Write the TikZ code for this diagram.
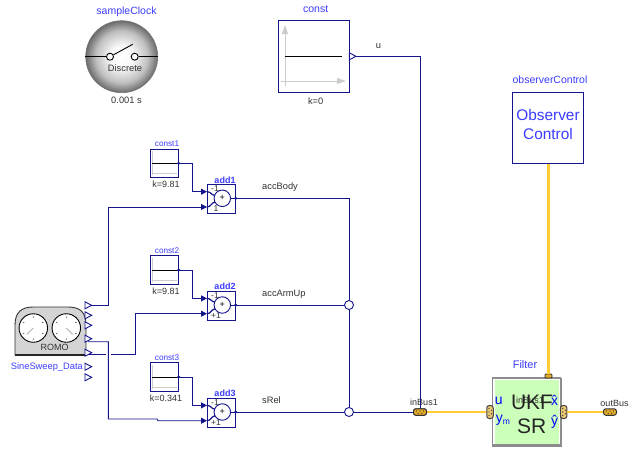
\documentclass[tikz,border=0pt]{standalone}
\usepackage{fontspec}
\setmainfont{Liberation Sans}
\usetikzlibrary{arrows.meta,shadings}
\definecolor{navy}{RGB}{20,20,140}
\definecolor{lblue}{RGB}{60,60,255}
\definecolor{ygold}{RGB}{255,204,51}
\definecolor{busfill}{RGB}{225,170,40}
\definecolor{txt}{RGB}{50,50,50}
\pgfdeclareradialshading{clkshade}{\pgfpointorigin}{color(0bp)=(white); color(8bp)=(black!3); color(18bp)=(black!25); color(25bp)=(black!58); color(50bp)=(black!58)}
\tikzset{
  x=1pt,y=-1pt,
  lab/.style={inner sep=0,font=\fontsize{10.5}{11}\selectfont,text=lblue},
  grey/.style={inner sep=0,font=\fontsize{9.3}{10}\selectfont,text=txt},
  wire/.style={draw=navy,line width=0.9pt},
  arrowwire/.style={wire,-{Triangle[length=6pt,width=6pt]}},
  bus/.style={draw=ygold,line width=2.4pt},
  blockbox/.style={draw=navy,line width=0.9pt,fill=white},
  port/.style={draw=navy,fill=white,line width=0.9pt,line join=miter},
  junc/.style={circle,draw=navy,fill=white,line width=0.9pt,inner sep=0,minimum size=9pt},
  hbus/.style={rounded corners=2.5pt,draw=black!80,fill=busfill,line width=1pt,minimum width=13pt,minimum height=6.5pt,inner sep=0},
  vbus/.style={rounded corners=2.5pt,draw=black!75,fill=busfill!65!white,line width=1pt,minimum width=6.5pt,minimum height=13pt,inner sep=0},
}
\begin{document}
\begin{tikzpicture}
\useasboundingbox (0,0) rectangle (630,448);
\fill[white] (0,0) rectangle (630,448);

% sampleClock
\node[circle,minimum size=72pt,inner sep=0,draw=black!55,line width=0.6pt,shading=clkshade] (clock) at (121.7,56.7) {};
\node[lab] (clockname) at (126.5,12) {sampleClock};
\node[grey] (clockperiod) at (126.5,100.5) {0.001 s};
\node[grey] (clockkind) at (125,68) {Discrete};
\node[circle,draw=black,fill=white,line width=0.9pt,inner sep=0,minimum size=7pt] (sw1) at (110,56.7) {};
\node[circle,draw=black,fill=white,line width=0.9pt,inner sep=0,minimum size=7pt] (sw2) at (134.7,56.7) {};
\draw[line width=0.9pt] (clock.west) -- (sw1);
\draw[line width=0.9pt] (sw2) -- (clock.east);
\draw[line width=0.9pt] (sw1) -- (132.7,44.3);

% const
\node[blockbox,minimum width=71.3pt,minimum height=71.3pt,inner sep=0] (const) at (313.65,56.35) {};
\node[lab] (constname) at (315.7,9.5) {const};
\node[grey] (constk) at (315.7,101.5) {k=0};
\draw[black!20,line width=1pt,-{Triangle[length=9pt,width=6pt]}] (285,86) -- (285,25);
\draw[black!20,line width=1pt,-{Triangle[length=9pt,width=6pt]}] (281,81) -- (346,81);
\draw[black,line width=0.9pt] (285,56.3) -- (342.3,56.3);
\draw[port] (349.3,52.8) -- (356,56.3) -- (349.3,59.8) -- cycle;
\coordinate (constout) at (356,56.3);
\node[grey] (ulabel) at (378.5,46) {u};

% observerControl
\node[blockbox,minimum width=70.6pt,minimum height=71.7pt,inner sep=0] (obs) at (548,127.85) {};
\node[lab] (obsname) at (550,80) {observerControl};
\node[inner sep=0,font=\fontsize{15.4}{18}\selectfont,text=lblue,align=center] (obstext) at (548,124) {Observer\\[1pt]Control};

% Filter
\fill[black!45] (491.7,377.7) rectangle (561.7,446.7);
\node[draw=black!45,line width=1.2pt,fill=white,minimum width=68pt,minimum height=67pt,inner sep=0] (filterbox) at (526.7,411.5) {};
\fill[fill={rgb,255:red,204;green,255;blue,185}] (495,380) rectangle (559.3,444);
\node[lab,font=\fontsize{11}{12}\selectfont] (filtername) at (525,365) {Filter};
\node[inner sep=0,font=\fontsize{9}{10}\selectfont,text=txt] (filtbus) at (530,400.7) {inBus1};
\node[inner sep=0,font=\fontsize{21}{24}\selectfont,text=black!85] (ukf) at (532,402.5) {UKF};
\node[inner sep=0,font=\fontsize{21}{24}\selectfont,text=black!85] (sr) at (531.7,426) {SR};
\node[inner sep=0,font=\fontsize{14}{15}\selectfont,text=blue] (fu) at (498.8,401) {u};
\node[inner sep=0,font=\fontsize{14}{15}\selectfont,text=blue] (fym) at (503,420.5) {y\raisebox{-2pt}{\fontsize{8.5}{9}\selectfont m}};
\node[inner sep=0,font=\fontsize{14}{15}\selectfont,text=blue] (fx) at (554.5,400.5) {\^{x}};
\node[inner sep=0,font=\fontsize{14}{15}\selectfont,text=blue] (fy) at (554.5,421.5) {\^{y}};

% buses
\node[hbus] (inbus) at (420,412) {};
\node[hbus] (outbus) at (610,412) {};
\node[vbus] (filtin) at (490,412) {};
\node[vbus] (filtout) at (563.7,412) {};
\node[rounded corners=1pt,draw=black!80,fill=busfill,line width=0.8pt,minimum width=7pt,minimum height=4pt,inner sep=0] (filttop) at (548.5,376) {};
\node[grey,font=\fontsize{9}{10}\selectfont] (inbuslabel) at (424,402.5) {inBus1};
\node[grey,font=\fontsize{9}{10}\selectfont] (outbuslabel) at (614.5,403) {outBus};

% const -> inBus
\draw[wire] (constout) -- (420,56.3) -- (inbus.center);
\draw[bus] (inbus.east) -- (filtin.west);
\draw[bus] (filtout.east) -- (outbus.west);
\draw[bus] (obs.south -| filttop) -- (filttop.north);

% constants & adders
\foreach \i/\dy/\k/\s in {1/0/9.81/1,2/106.7/9.81/{+1},3/213.7/0.341/{+1}}{
  \node[draw=navy,fill=white,line width=0.8pt,minimum width=28.7pt,minimum height=28.7pt,inner sep=0] (c\i) at (164.35,163.35+\dy) {};
  \node[lab,font=\fontsize{8.2}{10}\selectfont] (cn\i) at (167,144+\dy) {const\i};
  \node[grey,font=\fontsize{9}{10}\selectfont] (ck\i) at (166,184.5+\dy) {k=\k};
  \draw[black!20,line width=0.7pt] (152.5,151+\dy) -- (152.5,175+\dy);
  \draw[black!20,line width=0.7pt] (151.5,173.5+\dy) -- (177,173.5+\dy);
  \draw[black,line width=0.9pt] (152,163.3+\dy) -- (178,163.3+\dy);
  \node[blockbox,minimum width=28.7pt,minimum height=29pt,inner sep=0] (a\i) at (221.35,199.2+\dy) {};
  \node[inner sep=0,font=\bfseries\fontsize{9}{10}\selectfont,text=lblue] (an\i) at (225,180+\dy) {add\i};
  \draw[navy,line width=1.2pt] (207,191.7+\dy) .. controls (211,191.7+\dy) and (211,195+\dy) .. (215,195.5+\dy);
  \draw[navy,line width=1.2pt] (207,207+\dy) .. controls (211,207+\dy) and (211,203+\dy) .. (215,202+\dy);
  \node[grey,font=\fontsize{8.5}{10}\selectfont] (m\i) at (215,188.5+\dy) {-1};
  \node[grey,font=\fontsize{8.5}{10}\selectfont] (p\i) at (216,208.5+\dy) {\s};
  \node[circle,draw=navy,fill=white,line width=0.9pt,inner sep=0,minimum size=16.5pt,font=\fontsize{9}{10}\selectfont,text=black] (s\i) at (222.3,198.3+\dy) {+};
  \coordinate (out\i) at (235.7,198.3+\dy);
  \draw[navy,line width=0.9pt] (s\i) -- (out\i);
  \coordinate (in\i a) at (207,191.7+\dy);
  \coordinate (in\i b) at (207,207+\dy);
  \draw[arrowwire] (178.7,163.3+\dy) -- (192.7,163.3+\dy) -- (192.7,191.7+\dy) -- (in\i a);
  \fill[navy] (178.7,163.3+\dy) circle (1.6pt);
  \fill[navy] (out\i) circle (1.6pt);
}

% outputs
\node[grey,anchor=west] (accbody) at (262,187) {accBody};
\node[grey,anchor=west] (accarm) at (262,294) {accArmUp};
\node[grey,anchor=west] (srel) at (262,400.5) {sRel};
\coordinate (j0) at (349,198.3);
\node[junc] (j1) at (349,305) {};
\node[junc] (j2) at (349,412) {};
\draw[wire] (out1) -- (j0) -- (j1);
\draw[wire] (out2) -- (j1);
\draw[wire] (j1) -- (j2);
\draw[wire] (out3) -- (j2);
\draw[wire] (j2) -- (inbus.center);
\node[hbus] at (inbus) {};
\foreach \cx in {420,610}{
  \foreach \d in {-3.5,0,3.5}{\fill[black!80] (\cx+\d,411) circle (0.7pt);}
  \foreach \d in {-1.8,1.8}{\fill[black!80] (\cx+\d,413.5) circle (0.7pt);}
}
\foreach \cx in {490,563.7}{
  \foreach \d in {-3.5,0,3.5}{\fill[black!80] (\cx-1,412+\d) circle (0.7pt);}
  \foreach \d in {-1.8,1.8}{\fill[black!80] (\cx+1.5,412+\d) circle (0.7pt);}
}

% ROMO
\draw[draw=black!80,fill=black!17,line width=0.9pt] (15,355) -- (15,325) .. controls (15,312) and (22,307) .. (33,307) -- (68,307) .. controls (80,307) and (86,312) .. (86,325) -- (86,355) -- cycle;
\draw[black!85,line width=1.3pt] (15,355) -- (86,355);
\foreach \n/\cx/\ang in {g1/33.3/225,g2/66.3/-45}{
  \node[circle,draw=black,fill=white,line width=0.9pt,minimum size=28.5pt,inner sep=0] (\n) at (\cx,328) {};
  \foreach \t in {30,90,...,330}{\fill[black!70] (\cx,328) ++({11*cos(\t)},{11*sin(\t)}) circle (0.7pt);}
  \draw[black!30,line width=0.8pt] (\cx,328) -- ++({9*cos(\ang)},{-9*sin(\ang)});
}
\node[inner sep=0,font=\fontsize{9}{10}\selectfont,text=txt] (romo) at (54.7,347) {ROMO};
\node[lab,anchor=east,font=\fontsize{9.3}{10}\selectfont] (sine) at (83,367) {SineSweep\_Data};
\foreach \y/\n in {305.3/r1,315.3/r2,325.3/r3,338.7/r4,352.7/r5,366.7/r6,377.3/r7}{
  \draw[port] (85,\y-3.5) -- (91.7,\y) -- (85,\y+3.5) -- cycle;
  \coordinate (\n) at (91.7,\y);
}
\coordinate (r4o) at (88,341.7);
\coordinate (r5o) at (88,354.7);
\draw[arrowwire] (r1) -- (108.3,305.3) -- (108.3,207) -- (in1b);
\draw[wire] (r5o) -- (105.5,354.7);
\draw[arrowwire] (110.5,354.7) -- (135,354.7) -- (135,313.7) -- (in2b);
\draw[arrowwire] (r4o) -- (108.3,341.7) -- (108.3,419) -- (157,419) -- (158,420.7) -- (in3b);
\end{tikzpicture}
\end{document}
